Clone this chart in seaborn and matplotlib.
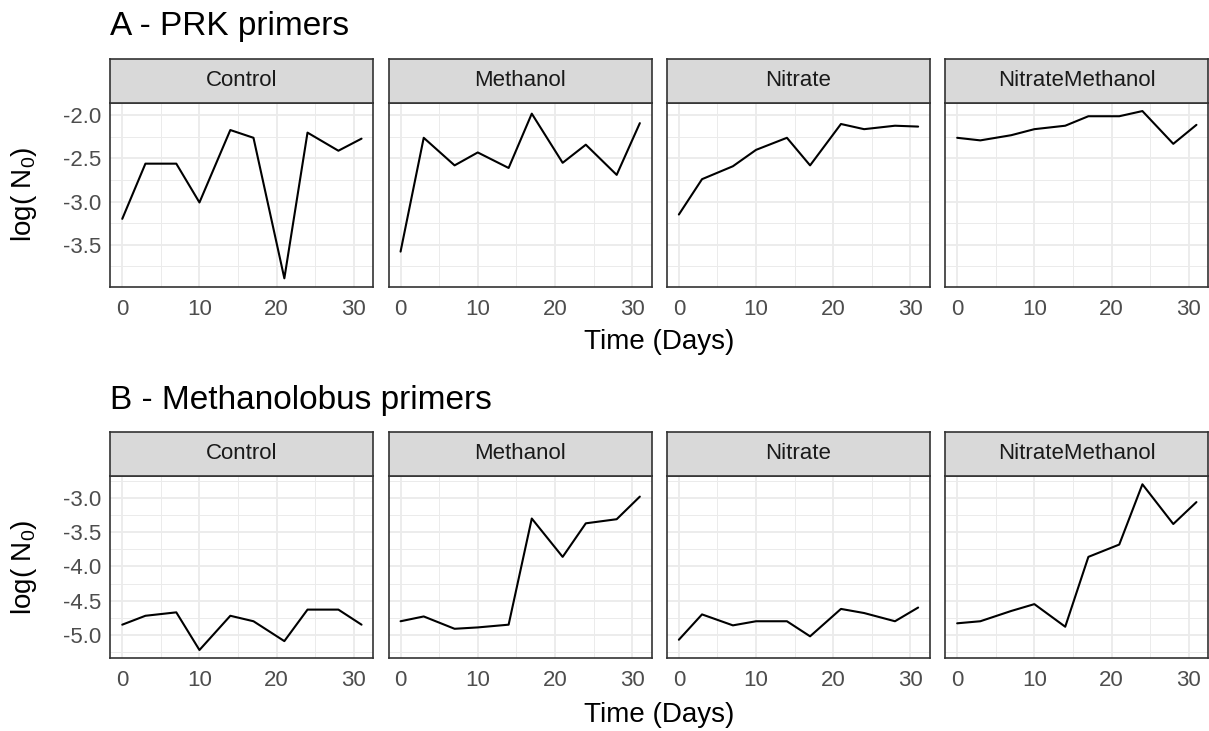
import matplotlib
matplotlib.use("Agg")
import matplotlib.pyplot as plt
from matplotlib.ticker import MultipleLocator, FormatStrFormatter
import numpy as np
import pandas as pd
import seaborn as sns

# Sampling days
days = [0, 3, 7, 10, 14, 17, 21, 24, 28, 31]
treatments = ["Control", "Methanol", "Nitrate", "NitrateMethanol"]

# A - PRK primers, log(N0) per treatment
prk_control = [-3.20, -2.56, -2.56, -3.01, -2.17, -2.26, -3.89, -2.20, -2.41, -2.27]
prk_methanol = [-3.58, -2.26, -2.58, -2.43, -2.61, -1.98, -2.55, -2.34, -2.69, -2.09]
prk_nitrate = [-3.15, -2.74, -2.59, -2.40, -2.26, -2.58, -2.10, -2.16, -2.12, -2.13]
prk_nitratemethanol = [-2.26, -2.29, -2.23, -2.16, -2.12, -2.01, -2.01, -1.95, -2.33, -2.11]

# B - Methanolobus primers, log(N0) per treatment
mlb_control = [-4.85, -4.72, -4.67, -5.22, -4.72, -4.80, -5.09, -4.63, -4.63, -4.85]
mlb_methanol = [-4.80, -4.73, -4.91, -4.89, -4.85, -3.30, -3.86, -3.37, -3.31, -2.98]
mlb_nitrate = [-5.07, -4.70, -4.86, -4.80, -4.80, -5.02, -4.62, -4.68, -4.80, -4.60]
mlb_nitratemethanol = [-4.83, -4.80, -4.65, -4.55, -4.88, -3.86, -3.68, -2.80, -3.38, -3.06]

titles = ["A - PRK primers", "B - Methanolobus primers"]
x_label = "Time (Days)"
y_label = r"log( N$_{0}$)"


def long_frame(series):
    records = []
    for trt, vals in zip(treatments, series):
        for d, v in zip(days, vals):
            records.append({"treatment": trt, "day": d, "logN0": v})
    return pd.DataFrame(records)


df_a = long_frame([prk_control, prk_methanol, prk_nitrate, prk_nitratemethanol])
df_b = long_frame([mlb_control, mlb_methanol, mlb_nitrate, mlb_nitratemethanol])

sns.set_theme(style="white")
plt.rcParams["font.family"] = ["Liberation Sans", "DejaVu Sans"]
plt.rcParams["axes.unicode_minus"] = False
plt.rcParams["mathtext.default"] = "regular"

W, H = 1209, 731
fig = plt.figure(figsize=(W / 100, H / 100), dpi=100)
fig.patch.set_facecolor("white")


def rect(x0, y0, x1, y1):
    return [x0 / W, 1 - y1 / H, (x1 - x0) / W, (y1 - y0) / H]


panel_left = [110.3, 388.6, 666.9, 945.2]
panel_w = 263.2
layout = [
    dict(df=df_a, title=titles[0], strip=(58.5, 102.7), ax=(102.7, 286.7),
         title_y=27, xlab_y=342, ylab_y=194.7),
    dict(df=df_b, title=titles[1], strip=(431.7, 476.0), ax=(476.0, 658.3),
         title_y=401, xlab_y=715, ylab_y=567),
]

border = "#333333"
tick_size = 16
for row in layout:
    df = row["df"]
    ymin_d, ymax_d = df["logN0"].min(), df["logN0"].max()
    pad = 0.05 * (ymax_d - ymin_d)
    ylim = (ymin_d - pad, ymax_d + pad)
    span = max(days) - min(days)
    xlim = (min(days) - 0.05 * span, max(days) + 0.05 * span)
    for i, trt in enumerate(treatments):
        x0 = panel_left[i]
        x1 = x0 + panel_w
        ax = fig.add_axes(rect(x0, row["ax"][0], x1, row["ax"][1]))
        sub = df[df["treatment"] == trt]
        sns.lineplot(data=sub, x="day", y="logN0", ax=ax, color="black",
                     linewidth=1.5, estimator=None, sort=True, zorder=3)
        ax.set_xlim(*xlim)
        ax.set_ylim(*ylim)
        ax.xaxis.set_major_locator(MultipleLocator(10))
        ax.xaxis.set_minor_locator(MultipleLocator(5))
        ax.yaxis.set_major_locator(MultipleLocator(0.5))
        ax.yaxis.set_minor_locator(MultipleLocator(0.25))
        ax.yaxis.set_major_formatter(FormatStrFormatter("%.1f"))
        ax.grid(which="major", color="#EBEBEB", linewidth=1.3, zorder=0)
        ax.grid(which="minor", color="#EBEBEB", linewidth=0.7, zorder=0)
        ax.set_axisbelow(True)
        for sp in ax.spines.values():
            sp.set_color(border)
            sp.set_linewidth(1.2)
        ax.tick_params(axis="x", which="major", length=4, width=1.0, color=border,
                       labelsize=tick_size, labelcolor="#4D4D4D", pad=4.5)
        ax.tick_params(axis="y", which="major", length=4, width=1.0, color=border,
                       labelsize=tick_size, labelcolor="#4D4D4D", pad=2.5)
        ax.tick_params(which="minor", length=0)
        if i > 0:
            ax.tick_params(axis="y", which="both", left=False, labelleft=False)
        ax.set_xlabel("")
        ax.set_ylabel("")

        sax = fig.add_axes(rect(x0, row["strip"][0], x1, row["strip"][1]))
        sax.set_facecolor("#D9D9D9")
        sax.set_xticks([])
        sax.set_yticks([])
        for sp in sax.spines.values():
            sp.set_color(border)
            sp.set_linewidth(1.2)
        sax.text(0.5, 0.5, trt, ha="center", va="center", fontsize=16,
                 color="#1A1A1A", transform=sax.transAxes)

    fig.text(110 / W, 1 - row["title_y"] / H, row["title"], ha="left", va="center",
             fontsize=24, color="black")
    fig.text((panel_left[0] + panel_left[-1] + panel_w) / 2 / W, 1 - row["xlab_y"] / H, x_label,
             ha="center", va="center", fontsize=20, color="black")
    fig.text(24 / W, 1 - row["ylab_y"] / H, y_label, ha="center", va="center",
             rotation=90, fontsize=20, color="black")

fig.savefig("out.png", dpi=100, facecolor="white")
